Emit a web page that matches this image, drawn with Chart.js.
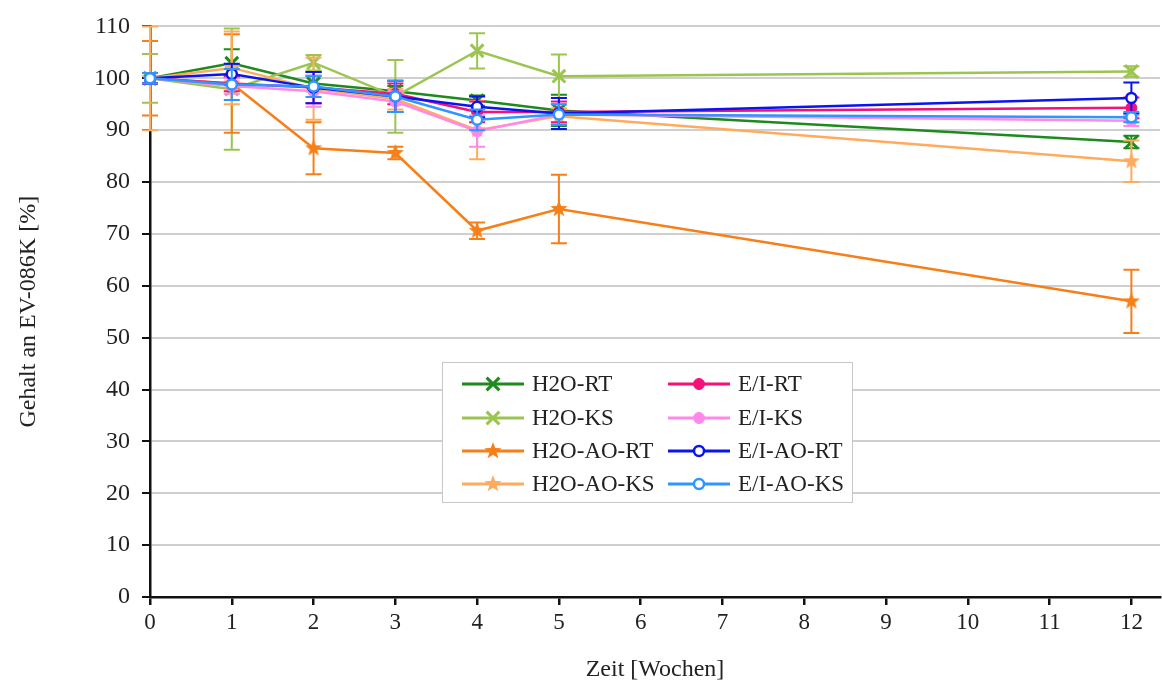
<!DOCTYPE html>
<html>
<head>
<meta charset="utf-8">
<script src="https://cdn.jsdelivr.net/npm/chart.js@4.4.0/dist/chart.umd.min.js"></script>
<style>
  html, body { margin: 0; padding: 0; background: #fff; }
  #wrap { position: relative; width: 1162px; height: 686px; }
  #legende {
    position: absolute; left: 442px; top: 362px; width: 409px; height: 139px;
    border: 1.5px solid #c8c8c8; background: #fff;
    font-family: "Liberation Serif", serif; font-size: 23px; color: #222;
  }
  .eintrag { position: absolute; height: 30px; display: flex; align-items: center; }
  .eintrag canvas { margin-right: 8px; }
</style>
</head>
<body>
<div id="wrap">
  <canvas id="grafico" width="1162" height="686"></canvas>
  <div id="legende"></div>
</div>
<script>
// Zeitpunkte (Wochen)
const wochen = [0, 1, 2, 3, 4, 5, 12];
const yTicks = [0, 10, 20, 30, 40, 50, 60, 70, 80, 90, 100, 110];

// Mittelwerte pro Serie
const h2oRT     = [100, 102.9, 99.0, 97.5, 95.7, 93.8, 87.7];
const h2oKS     = [100, 97.9, 103.0, 96.5, 105.3, 100.4, 101.3];
const h2oAoRT   = [100, 99.0, 86.5, 85.6, 70.6, 74.8, 57.0];
const h2oAoKS   = [100, 102.0, 98.0, 96.0, 90.0, 92.7, 84.0];
const eiRT      = [100, 99.0, 98.2, 97.0, 93.5, 93.5, 94.3];
const eiKS      = [100, 98.5, 97.5, 95.5, 89.8, 93.0, 91.8];
const eiAoRT    = [100, 100.8, 98.2, 96.5, 94.5, 93.2, 96.2];
const eiAoKS    = [100, 98.8, 98.4, 96.5, 92.0, 93.0, 92.5];

// Standardabweichungen (Fehlerbalken)
const h2oRTErr   = [1.0, 2.7, 1.5, 1.0, 1.0, 3.0, 1.2];
const h2oKSErr   = [4.7, 11.7, 1.5, 7.0, 3.4, 4.2, 1.0];
const h2oAoRTErr = [7.2, 9.5, 5.0, 1.2, 1.6, 6.6, 6.1];
const h2oAoKSErr = [10.0, 7.0, 6.0, 2.0, 5.6, 1.5, 4.0];
const eiRTErr    = [1.0, 1.5, 3.0, 2.0, 2.0, 2.0, 2.0];
const eiKSErr    = [1.0, 1.5, 3.0, 2.0, 3.0, 2.0, 1.0];
const eiAoRTErr  = [1.0, 2.0, 3.0, 3.0, 2.0, 3.0, 3.0];
const eiAoKSErr  = [1.0, 3.0, 2.0, 3.0, 2.0, 2.0, 1.0];

const FUENTE = '"Liberation Serif", serif';

// Stern als Punktstil (gefuellter 5-zackiger Stern)
function crearEstrella(color, r) {
  const c = document.createElement("canvas");
  c.width = c.height = r * 2 + 2;
  const ctx = c.getContext("2d");
  ctx.beginPath();
  for (let i = 0; i < 10; i++) {
    const rad = i % 2 === 0 ? r : r * 0.42;
    const ang = -Math.PI / 2 + i * Math.PI / 5;
    const px = c.width / 2 + rad * Math.cos(ang);
    const py = c.height / 2 + rad * Math.sin(ang);
    if (i === 0) ctx.moveTo(px, py); else ctx.lineTo(px, py);
  }
  ctx.closePath();
  ctx.fillStyle = color;
  ctx.fill();
  return c;
}

function serie(label, data, err, color, style, extra) {
  return Object.assign({
    label: label,
    data: wochen.map((w, i) => ({ x: w, y: data[i] })),
    fehler: err,
    borderColor: color,
    backgroundColor: color,
    pointBorderColor: color,
    pointBackgroundColor: color,
    borderWidth: 2.5,
    pointStyle: style,
    pointRadius: 8,
    pointBorderWidth: 3,
    tension: 0,
    clip: false
  }, extra || {});
}

const datasets = [
  serie("H2O-RT", h2oRT, h2oRTErr, "#1c8a1c", "crossRot", { order: 8, pointRadius: 9 }),
  serie("H2O-KS", h2oKS, h2oKSErr, "#9cc550", "crossRot", { order: 7, pointRadius: 9 }),
  serie("H2O-AO-RT", h2oAoRT, h2oAoRTErr, "#f77f18", crearEstrella("#f77f18", 9), { order: 6 }),
  serie("H2O-AO-KS", h2oAoKS, h2oAoKSErr, "#ffab5e", crearEstrella("#ffab5e", 9), { order: 5 }),
  serie("E/I-RT", eiRT, eiRTErr, "#f5107a", "circle", { order: 4, pointRadius: 5.5, pointBorderWidth: 1 }),
  serie("E/I-KS", eiKS, eiKSErr, "#ff88ea", "circle", { order: 3, pointRadius: 5.5, pointBorderWidth: 1 }),
  serie("E/I-AO-RT", eiAoRT, eiAoRTErr, "#0a14f0", "circle", { order: 2, pointRadius: 5, pointBorderWidth: 2.5, pointBackgroundColor: "#fff" }),
  serie("E/I-AO-KS", eiAoKS, eiAoKSErr, "#2f95ff", "circle", { order: 1, pointRadius: 5, pointBorderWidth: 2.5, pointBackgroundColor: "#fff" })
];

// Fehlerbalken vor jeder Linie zeichnen
const fehlerbalken = {
  id: "fehlerbalken",
  beforeDatasetDraw(chart, args) {
    const ds = chart.data.datasets[args.index];
    const xs = chart.scales.x, ys = chart.scales.y;
    const ctx = chart.ctx;
    ctx.save();
    ctx.strokeStyle = ds.borderColor;
    ctx.lineWidth = 2;
    ds.data.forEach((p, i) => {
      const e = ds.fehler[i];
      const px = xs.getPixelForValue(p.x);
      const top = ys.getPixelForValue(p.y + e);
      const bot = ys.getPixelForValue(p.y - e);
      ctx.beginPath();
      ctx.moveTo(px, top); ctx.lineTo(px, bot);
      ctx.moveTo(px - 8, top); ctx.lineTo(px + 8, top);
      ctx.moveTo(px - 8, bot); ctx.lineTo(px + 8, bot);
      ctx.stroke();
    });
    ctx.restore();
  }
};

const grafico = new Chart("grafico", {
  type: "line",
  data: { datasets: datasets },
  plugins: [fehlerbalken],
  options: {
    responsive: false,
    animation: false,
    layout: { autoPadding: false, padding: { top: 26, right: 2, bottom: 0, left: 0 } },
    plugins: { legend: { display: false }, tooltip: { enabled: false } },
    scales: {
      x: {
        type: "linear",
        min: 0,
        max: 12.35,
        afterFit: s => { s.height = 89; s.paddingRight = 0; s.paddingLeft = 0; },
        ticks: { stepSize: 1, includeBounds: false, color: "#222", padding: 4,
                 font: { family: FUENTE, size: 23 } },
        grid: { drawOnChartArea: false, tickColor: "#111", tickLength: 8, lineWidth: 2.5 },
        border: { color: "#111", width: 2.5 },
        title: { display: true, text: "Zeit [Wochen]", color: "#222",
                 font: { family: FUENTE, size: 24 }, padding: { top: 14, bottom: 2 } }
      },
      y: {
        min: 0,
        max: 110,
        afterFit: s => { s.width = 150; },
        afterBuildTicks: s => { s.ticks = yTicks.map(v => ({ value: v })); },
        ticks: { color: "#222", padding: 12, font: { family: FUENTE, size: 24 } },
        grid: { color: "#cfcfcf", lineWidth: 2, tickColor: "#111", tickLength: 8 },
        border: { color: "#111", width: 2.5 },
        title: { display: true, text: "Gehalt an EV-086K [%]", color: "#222",
                 font: { family: FUENTE, size: 24 }, padding: { top: 14, bottom: 4 } }
      }
    }
  }
});

// Legende als HTML mit Mustern aus den Datensaetzen
const legende = document.getElementById("legende");
const filas = [21, 55, 88, 121];
datasets.forEach((ds, i) => {
  const col = Math.floor(i / 4), fila = i % 4;
  const div = document.createElement("div");
  div.className = "eintrag";
  div.style.left = (col === 0 ? 19 : 225) + "px";
  div.style.top = (filas[fila] - 15) + "px";
  const c = document.createElement("canvas");
  c.width = 62; c.height = 30;
  const ctx = c.getContext("2d");
  ctx.strokeStyle = ds.borderColor;
  ctx.lineWidth = 3;
  ctx.beginPath(); ctx.moveTo(0, 15); ctx.lineTo(62, 15); ctx.stroke();
  ctx.fillStyle = ds.pointBackgroundColor;
  ctx.strokeStyle = ds.pointBorderColor;
  ctx.lineWidth = ds.pointBorderWidth;
  Chart.helpers.drawPoint(ctx, { pointStyle: ds.pointStyle, radius: ds.pointRadius, borderWidth: ds.pointBorderWidth, rotation: 0 }, 31, 15);
  const span = document.createElement("span");
  span.textContent = ds.label;
  div.appendChild(c);
  div.appendChild(span);
  legende.appendChild(div);
});
</script>
</body>
</html>
